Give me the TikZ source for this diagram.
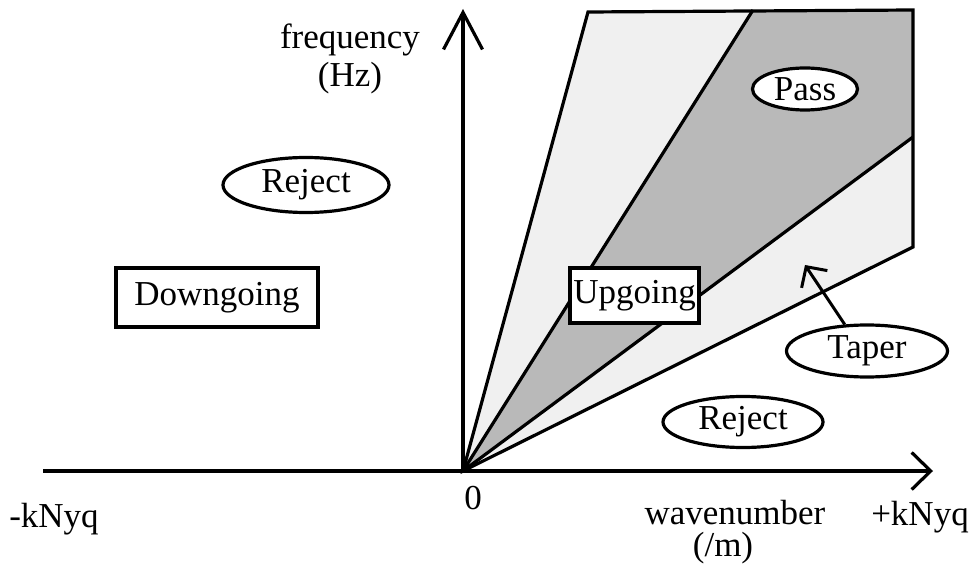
\documentclass[tikz,border=0pt]{standalone}
\usepackage{fontspec}
\setmainfont{Liberation Serif}
\usetikzlibrary{arrows.meta,shapes.geometric}
\begin{document}
\begin{tikzpicture}[x=1pt,y=-1pt,
  lw/.style={line width=3.2pt},
  txt/.style={font=\fontsize{35}{38}\selectfont, inner sep=0pt},
  ell/.style={ellipse, draw, lw, fill=white, txt},
  boxn/.style={rectangle, draw, lw, fill=white, txt},
  light/.style={fill=gray!12},
  dark/.style={fill=gray!55},
  axisV/.style={lw, -{Straight Barb[length=37pt,width=39pt,line width=3.2pt]}},
  axisH/.style={lw, -{Straight Barb[length=19pt,width=37pt,line width=3.2pt]}},
  tap/.style={line width=3pt, -{Straight Barb[length=15pt,width=31pt,line width=3pt]}}
]
\useasboundingbox (0,0) rectangle (977,569);
% key points
\coordinate (O) at (463,471);
\coordinate (TL) at (588,12);
\coordinate (TM) at (753,10);
\coordinate (TR) at (913,10);
\coordinate (RM) at (913,137);
\coordinate (RB) at (913,247);
\coordinate (XL) at (43,471);
\coordinate (XR) at (933,471);
\coordinate (YT) at (463,9);
% fills
\fill[light] (O) -- (TL) -- (TM) -- cycle;
\fill[light] (O) -- (RM) -- (RB) -- cycle;
\fill[dark] (O) -- (TM) -- (TR) -- (RM) -- cycle;
% outlines
\draw[lw, line join=miter] (O) -- (TL) -- (TR) -- (RB) -- cycle;
\draw[lw] (O) -- (TM);
\draw[lw] (O) -- (RM);
% axes
\draw[axisH] (XL) -- (XR);
\draw[axisV] (O) -- (YT);
% labels
\node[ell, minimum width=105pt, minimum height=42pt] (pass) at (805,89) {Pass};
\node[ell, minimum width=166pt, minimum height=55pt] (rejU) at (306,185) {Reject};
\node[ell, minimum width=160pt, minimum height=51pt] (rejL) at (743,422) {Reject};
\node[ell, minimum width=161pt, minimum height=52pt] (taper) at (867,351) {Taper};
\node[boxn, minimum width=129pt, minimum height=55pt] (up) at (634.5,295.5) {Upgoing};
\node[boxn, minimum width=202pt, minimum height=59pt] (down) at (217,297.5) {Downgoing};
\coordinate (tapTip) at (805,265);
\draw[tap] (taper.130) -- (tapTip);
\node[txt, align=center, anchor=north] (freq) at (350,24) {frequency\\(Hz)};
\node[txt, anchor=base] (zero) at (473,509) {0};
\node[txt, anchor=base] (kneg) at (54,527) {-kNyq};
\node[txt, anchor=base] (kpos) at (920,525) {+kNyq};
\node[txt, anchor=base] (wav) at (735,524) {wavenumber};
\node[txt, anchor=base] (unit) at (723,556) {(/m)};
\end{tikzpicture}
\end{document}
